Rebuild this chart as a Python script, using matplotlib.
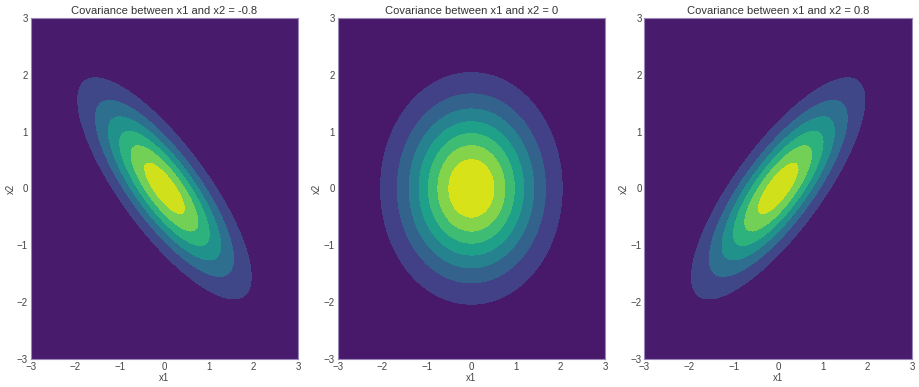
import numpy as np
import matplotlib
matplotlib.use("Agg")
import matplotlib.pyplot as plt

plt.style.use('seaborn-v0_8-whitegrid')
plt.rcParams['font.family'] = ['Liberation Sans', 'DejaVu Sans']

covariances = [-0.8, 0, 0.8]
variances = [1.0, 1.0]
means = [0.0, 0.0]
grid_lim = [-3, 3]
n_grid = 100
ticks = [-3, -2, -1, 0, 1, 2, 3]

x = np.linspace(grid_lim[0], grid_lim[1], n_grid)
X1, X2 = np.meshgrid(x, x)


def bivariate_pdf(X1, X2, mu, var, cov):
    S = np.array([[var[0], cov], [cov, var[1]]])
    Si = np.linalg.inv(S)
    d1 = X1 - mu[0]
    d2 = X2 - mu[1]
    q = Si[0, 0] * d1 ** 2 + 2 * Si[0, 1] * d1 * d2 + Si[1, 1] * d2 ** 2
    return np.exp(-0.5 * q) / (2 * np.pi * np.sqrt(np.linalg.det(S)))


fig, axes = plt.subplots(1, 3, figsize=(9.2, 3.87), dpi=100)
fig.subplots_adjust(left=0.0334, right=0.9913, top=0.954, bottom=0.0724, wspace=0.147)

for ax, c in zip(axes, covariances):
    Z = bivariate_pdf(X1, X2, means, variances, c)
    ax.contourf(X1, X2, Z, cmap='viridis')
    ax.set_xlim(grid_lim)
    ax.set_ylim(grid_lim)
    ax.set_xticks(ticks)
    ax.set_yticks(ticks)
    ax.set_title(f'Covariance between x1 and x2 = {c}', fontsize=8, pad=3, color='#333333')
    ax.set_xlabel('x1', fontsize=7, labelpad=1, color='#444444')
    ax.set_ylabel('x2', fontsize=7, labelpad=1, color='#444444')
    ax.tick_params(labelsize=7, pad=2, colors='#444444')
    for s in ax.spines.values():
        s.set_edgecolor('#9b88b8')
        s.set_linewidth(0.8)

fig.savefig('out.png', dpi=100)
